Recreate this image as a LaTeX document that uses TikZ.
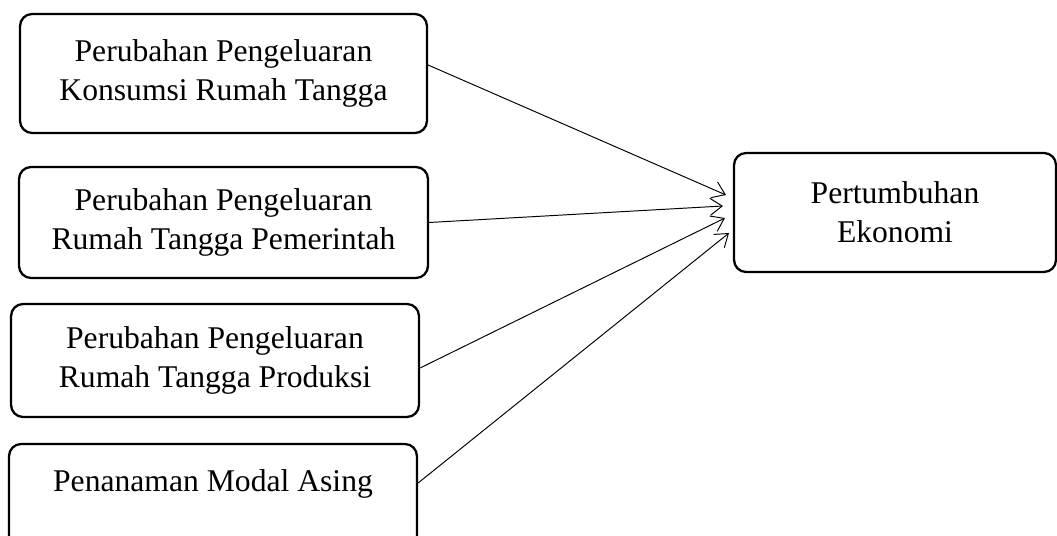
\documentclass[tikz,border=0pt]{standalone}
\usepackage{fontspec}
\setmainfont{Liberation Serif}
\usetikzlibrary{arrows.meta}

\tikzset{
  varbox/.style={draw, line width=1.3pt, rounded corners=0.24cm, align=center,
    font=\fontsize{18}{22.4}\selectfont, inner sep=0pt},
  link/.style={line width=0.55pt, -{Straight Barb[length=2.4mm,width=3.4mm]}}
}

\begin{document}
\begin{tikzpicture}[x=0.02cm,y=-0.02cm]
        \useasboundingbox (0,0) rectangle (1057,536);
        \node[varbox, minimum width=8.14cm, minimum height=2.38cm] at (223.5,73.5) (kons) {Perubahan Pengeluaran\\Konsumsi Rumah Tangga};
        \node[varbox, minimum width=8.18cm, minimum height=2.22cm] at (223.5,222.5) (pem) {Perubahan Pengeluaran\\Rumah Tangga Pemerintah};
        \node[varbox, minimum width=8.16cm, minimum height=2.26cm] at (215,360.5) (prod) {Perubahan Pengeluaran\\Rumah Tangga Produksi};
        \node[varbox, minimum width=8.16cm, minimum height=2.26cm] at (213,500.5) (pma) {Penanaman Modal Asing\\\mbox{}};
        \node[varbox, minimum width=6.44cm, minimum height=2.38cm] at (895,212.5) (eko) {Pertumbuhan\\Ekonomi};
        \coordinate (e1) at (726,195);
        \coordinate (e2) at (723,206);
        \coordinate (e3) at (725,218);
        \coordinate (e4) at (729,233);
        \draw[link] ([yshift=0.17cm]kons.east) -- (e1);
        \draw[link] (pem.east) -- (e2);
        \draw[link] ([yshift=-0.15cm]prod.east) -- (e3);
        \draw[link] ([yshift=0.35cm]pma.east) -- (e4);
    \end{tikzpicture}
\end{document}
